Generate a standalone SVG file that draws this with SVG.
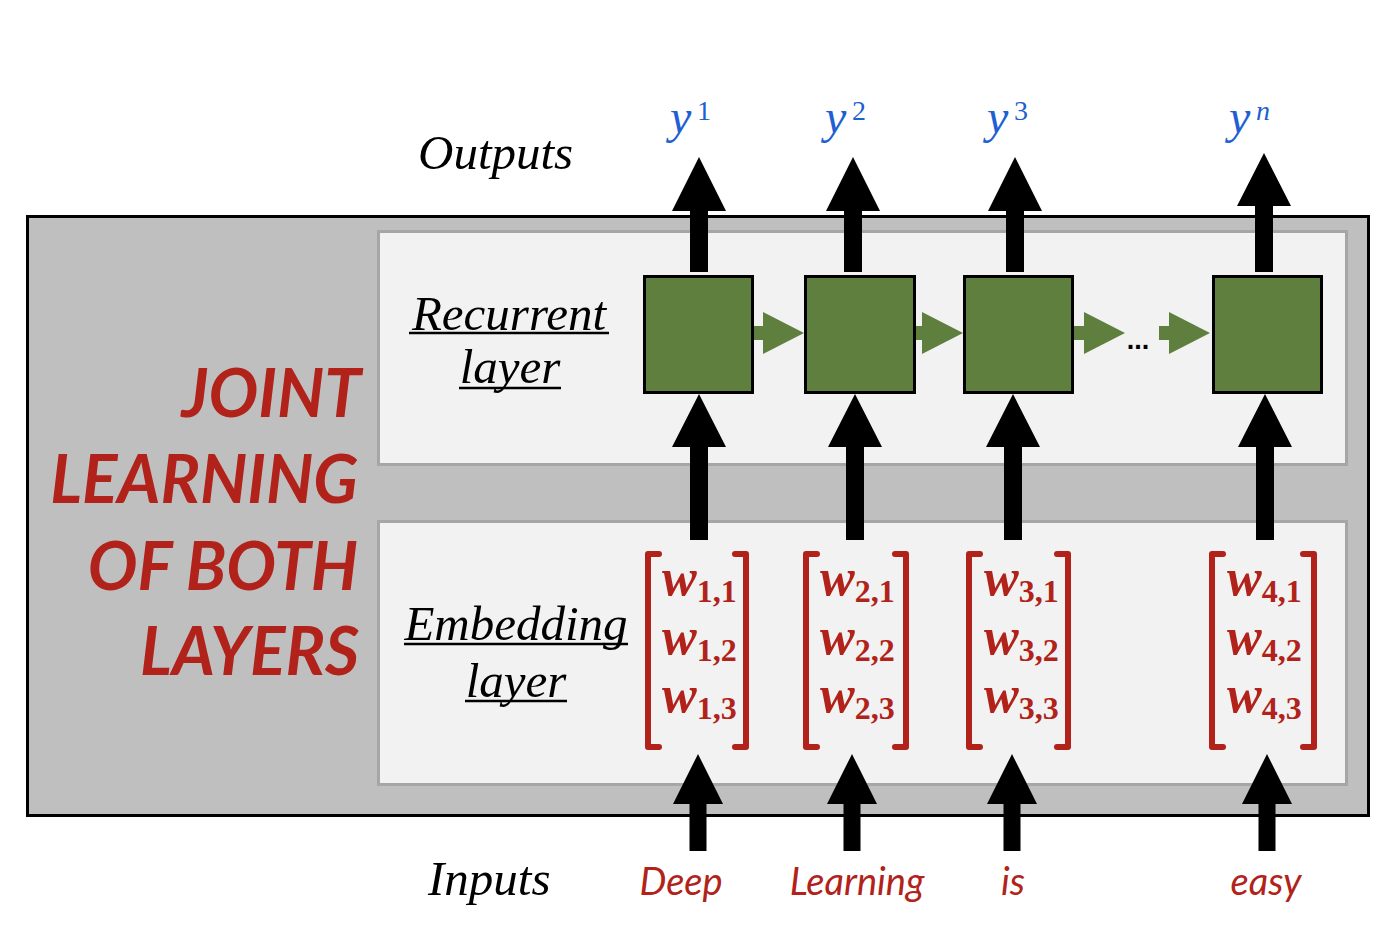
<svg xmlns="http://www.w3.org/2000/svg" width="1390" height="936" viewBox="0 0 1390 936">
<style>
.lbl{font-family:"Liberation Serif","Times New Roman",serif;font-style:italic;font-size:49px;fill:#000}
.ul{stroke:#000;stroke-width:2.5}
.big{font-family:Lato,"Open Sans",sans-serif;font-weight:bold;font-style:italic;font-size:66px;fill:#b1231a;text-anchor:end}
.word{font-family:Lato,"Open Sans",sans-serif;font-style:italic;font-size:38px;fill:#b1231a;text-anchor:middle}
.yv{font-family:"Liberation Serif","Times New Roman",serif;font-style:italic;font-size:48px;fill:#1e5fd2}
.ys{font-family:"Liberation Serif","Times New Roman",serif;font-size:28px;fill:#1e5fd2}
.w{font-family:"Liberation Serif","Times New Roman",serif;font-weight:bold;font-style:italic;font-size:52px;fill:#b1231a}
.ws{font-style:normal;font-size:32px}
.br{fill:none;stroke:#b1231a;stroke-width:6;stroke-linejoin:round;stroke-linecap:round}
.cell{fill:#5f7f3e;stroke:#000;stroke-width:3}
.panel{fill:#f2f2f2;stroke:#a6a6a6;stroke-width:3}
.blk{fill:#000}
.grn{fill:#5f7f3e}
</style>

<g id="outer-box">
<rect x="27.5" y="216.5" width="1341" height="599" fill="#bfbfbf" stroke="#000" stroke-width="3"/>
</g>

<g id="recurrent-panel">
<rect class="panel" x="378.5" y="231.5" width="968" height="233"/>
<text class="lbl" x="509" y="330" text-anchor="middle">Recurrent</text>
<line class="ul" x1="409" y1="333" x2="609" y2="333"/>
<text class="lbl" x="510" y="383" text-anchor="middle">layer</text>
<line class="ul" x1="459" y1="388" x2="561" y2="388"/>
</g>

<g id="embedding-panel">
<rect class="panel" x="378.5" y="521.5" width="968" height="263"/>
<text class="lbl" x="516" y="640" text-anchor="middle">Embedding</text>
<line class="ul" x1="404" y1="644" x2="628" y2="644"/>
<text class="lbl" x="516" y="697" text-anchor="middle">layer</text>
<line class="ul" x1="465" y1="701" x2="567" y2="701"/>
</g>

<g id="title">
<text class="big" x="361" y="417">JOINT</text>
<text class="big" x="358" y="503">LEARNING</text>
<text class="big" x="358" y="590">OF BOTH</text>
<text class="big" x="359" y="675">LAYERS</text>
</g>

<g id="outputs-label"><text class="lbl" x="418" y="169">Outputs</text></g>
<g id="inputs-label"><text class="lbl" x="428" y="895">Inputs</text></g>

<g id="cell-1"><rect class="cell" x="644.5" y="276.5" width="108" height="116"/></g>
<g id="cell-2"><rect class="cell" x="805.5" y="276.5" width="109" height="116"/></g>
<g id="cell-3"><rect class="cell" x="964.5" y="276.5" width="108" height="116"/></g>
<g id="cell-n"><rect class="cell" x="1213.5" y="276.5" width="108" height="116"/></g>

<g id="ellipsis"><text x="1138" y="349" text-anchor="middle" font-family="Liberation Sans,Arial,sans-serif" font-weight="bold" font-size="27">...</text></g>

<g id="output-y1"><text class="yv" x="670" y="133">y</text><text class="ys" x="697" y="120">1</text></g>
<g id="output-y2"><text class="yv" x="825" y="133">y</text><text class="ys" x="852" y="120">2</text></g>
<g id="output-y3"><text class="yv" x="987" y="133">y</text><text class="ys" x="1014" y="120">3</text></g>
<g id="output-yn"><text class="yv" x="1229" y="133">y</text><text class="ys" x="1256" y="120" font-style="italic">n</text></g>

<g id="embedding-1">
<path class="br" d="M659,554 H648 V747 H659"/>
<path class="br" d="M735,554 H746 V747 H735"/>
<text class="w" x="662" y="595">w<tspan class="ws" dy="7">1,1</tspan></text>
<text class="w" x="662" y="654">w<tspan class="ws" dy="7">1,2</tspan></text>
<text class="w" x="662" y="712">w<tspan class="ws" dy="7">1,3</tspan></text>
</g>
<g id="embedding-2">
<path class="br" d="M817,554 H806 V747 H817"/>
<path class="br" d="M895,554 H906 V747 H895"/>
<text class="w" x="820" y="595">w<tspan class="ws" dy="7">2,1</tspan></text>
<text class="w" x="820" y="654">w<tspan class="ws" dy="7">2,2</tspan></text>
<text class="w" x="820" y="712">w<tspan class="ws" dy="7">2,3</tspan></text>
</g>
<g id="embedding-3">
<path class="br" d="M980,554 H969 V747 H980"/>
<path class="br" d="M1057,554 H1068 V747 H1057"/>
<text class="w" x="984" y="595">w<tspan class="ws" dy="7">3,1</tspan></text>
<text class="w" x="984" y="654">w<tspan class="ws" dy="7">3,2</tspan></text>
<text class="w" x="984" y="712">w<tspan class="ws" dy="7">3,3</tspan></text>
</g>
<g id="embedding-4">
<path class="br" d="M1223,554 H1212 V747 H1223"/>
<path class="br" d="M1303,554 H1314 V747 H1303"/>
<text class="w" x="1227" y="595">w<tspan class="ws" dy="7">4,1</tspan></text>
<text class="w" x="1227" y="654">w<tspan class="ws" dy="7">4,2</tspan></text>
<text class="w" x="1227" y="712">w<tspan class="ws" dy="7">4,3</tspan></text>
</g>

<g id="input-words">
<text class="word" x="681" y="895">Deep</text>
<text class="word" x="857" y="895">Learning</text>
<text class="word" x="1013" y="895">is</text>
<text class="word" x="1266" y="895">easy</text>
</g>

<g id="connectors">
<path class="blk" d="M699,157 L726,211 L708,211 L708,272 L690,272 L690,211 L672,211 Z"/>
<path class="blk" d="M853,157 L880,211 L862,211 L862,272 L844,272 L844,211 L826,211 Z"/>
<path class="blk" d="M1015,157 L1042,211 L1024,211 L1024,272 L1006,272 L1006,211 L988,211 Z"/>
<path class="blk" d="M1264,153 L1291,206 L1273,206 L1273,272 L1255,272 L1255,206 L1237,206 Z"/>
<path class="blk" d="M699,394 L726,447 L708,447 L708,540 L690,540 L690,447 L672,447 Z"/>
<path class="blk" d="M855,394 L882,447 L864,447 L864,540 L846,540 L846,447 L828,447 Z"/>
<path class="blk" d="M1013,394 L1040,447 L1022,447 L1022,540 L1004,540 L1004,447 L986,447 Z"/>
<path class="blk" d="M1265,394 L1292,447 L1274,447 L1274,540 L1256,540 L1256,447 L1238,447 Z"/>
<path class="blk" d="M698,754 L723,804 L706.5,804 L706.5,851 L689.5,851 L689.5,804 L673,804 Z"/>
<path class="blk" d="M852,754 L877,804 L860.5,804 L860.5,851 L843.5,851 L843.5,804 L827,804 Z"/>
<path class="blk" d="M1012,754 L1037,804 L1020.5,804 L1020.5,851 L1003.5,851 L1003.5,804 L987,804 Z"/>
<path class="blk" d="M1267,754 L1292,804 L1275.5,804 L1275.5,851 L1258.5,851 L1258.5,804 L1242,804 Z"/>
<path class="grn" d="M754,326 H763 V312 L804,333 L763,354 V340 H754 Z"/>
<path class="grn" d="M916,326 H922 V312 L963,333 L922,354 V340 H916 Z"/>
<path class="grn" d="M1074,326 H1084 V312 L1125,333 L1084,354 V340 H1074 Z"/>
<path class="grn" d="M1159,326 H1169 V312 L1210,333 L1169,354 V340 H1159 Z"/>
</g>
</svg>
